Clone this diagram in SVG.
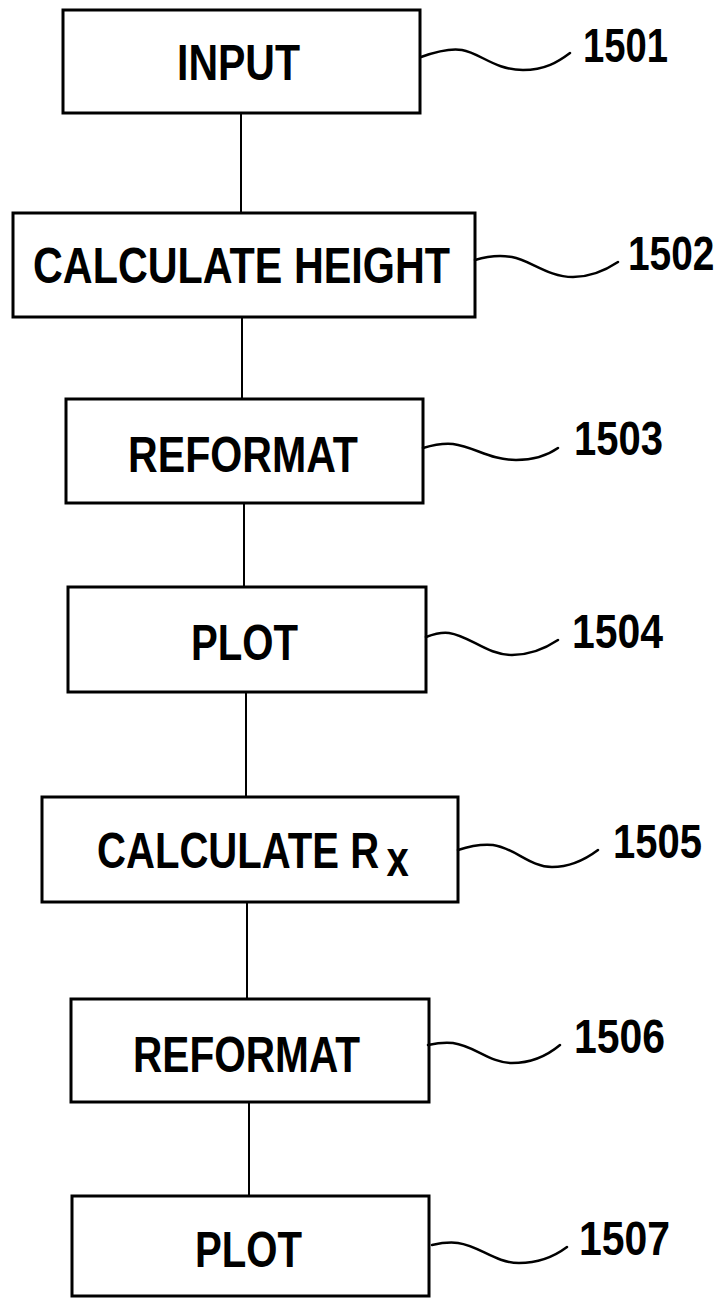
<svg xmlns="http://www.w3.org/2000/svg" width="727" height="1298" viewBox="0 0 727 1298">
<style>
.box{fill:#fff;stroke:#000;stroke-width:3}
.lbl{font-family:"Liberation Sans",Arial,sans-serif;font-weight:bold;font-size:50px;fill:#000}
.num{font-family:"Liberation Sans",Arial,sans-serif;font-weight:bold;font-size:48px;fill:#000}
.lead{fill:none;stroke:#000;stroke-width:2.5;stroke-linecap:round}
.conn{fill:none;stroke:#000;stroke-width:2}
</style>
<rect x="0" y="0" width="727" height="1298" fill="#fff"/>
<g id="connectors">
<line class="conn" x1="241" y1="113" x2="241" y2="213"/>
<line class="conn" x1="242" y1="317" x2="242" y2="399"/>
<line class="conn" x1="244" y1="503" x2="244" y2="587"/>
<line class="conn" x1="246" y1="692" x2="246" y2="797"/>
<line class="conn" x1="247" y1="902" x2="247" y2="999"/>
<line class="conn" x1="249" y1="1102" x2="249" y2="1196"/>
</g>
<g id="n1501">
<rect class="box" x="63" y="10" width="357" height="103"/>
<text class="lbl" x="177" y="80" textLength="123" lengthAdjust="spacingAndGlyphs">INPUT</text>
<path class="lead" d="M421,57 C435,52 450,48 462,50 C480,53 495,70 523,70 C545,70 558,62 570,53"/>
<text class="num" x="583" y="62" textLength="85" lengthAdjust="spacingAndGlyphs">1501</text>
</g>
<g id="n1502">
<rect class="box" x="13" y="213" width="462" height="104"/>
<text class="lbl" x="33" y="283" textLength="417" lengthAdjust="spacingAndGlyphs">CALCULATE HEIGHT</text>
<path class="lead" d="M475,260 C488,256 500,255 512,257 C530,260 548,277 573,277 C592,277 606,270 618,262"/>
<text class="num" transform="translate(628,270) scale(0.81,1)">1502</text>
</g>
<g id="n1503">
<rect class="box" x="66" y="399" width="357" height="104"/>
<text class="lbl" x="128" y="472" textLength="230" lengthAdjust="spacingAndGlyphs">REFORMAT</text>
<path class="lead" d="M423,448 C433,445 443,443 453,444 C475,447 490,460 516,460 C535,460 548,455 558,448"/>
<text class="num" x="574" y="455" textLength="89" lengthAdjust="spacingAndGlyphs">1503</text>
</g>
<g id="n1504">
<rect class="box" x="68" y="587" width="358" height="105"/>
<text class="lbl" x="191" y="660" textLength="107" lengthAdjust="spacingAndGlyphs">PLOT</text>
<path class="lead" d="M426,637 C434,634 442,632 449,633 C470,636 487,655 512,655 C532,655 546,648 558,640"/>
<text class="num" x="572" y="648" textLength="91" lengthAdjust="spacingAndGlyphs">1504</text>
</g>
<g id="n1505">
<rect class="box" x="42" y="797" width="416" height="105"/>
<text class="lbl" transform="translate(97,868) scale(0.802,1)">CALCULATE R<tspan x="361" dy="8">x</tspan></text>
<path class="lead" d="M458,850 C470,846 482,844 493,845 C515,848 530,867 552,867 C572,867 586,859 598,850"/>
<text class="num" x="613" y="858" textLength="89" lengthAdjust="spacingAndGlyphs">1505</text>
</g>
<g id="n1506">
<rect class="box" x="71" y="999" width="358" height="103"/>
<text class="lbl" x="133" y="1072" textLength="227" lengthAdjust="spacingAndGlyphs">REFORMAT</text>
<path class="lead" d="M428,1045 C437,1043 445,1042 453,1043 C475,1046 490,1063 512,1063 C533,1063 548,1055 560,1045"/>
<text class="num" x="574" y="1053" textLength="91" lengthAdjust="spacingAndGlyphs">1506</text>
</g>
<g id="n1507">
<rect class="box" x="72" y="1196" width="357" height="100"/>
<text class="lbl" x="195" y="1267" textLength="107" lengthAdjust="spacingAndGlyphs">PLOT</text>
<path class="lead" d="M432,1245 C441,1243 450,1242 458,1243 C480,1246 495,1263 519,1263 C540,1263 555,1256 567,1247"/>
<text class="num" x="579" y="1255" textLength="91" lengthAdjust="spacingAndGlyphs">1507</text>
</g>
</svg>
